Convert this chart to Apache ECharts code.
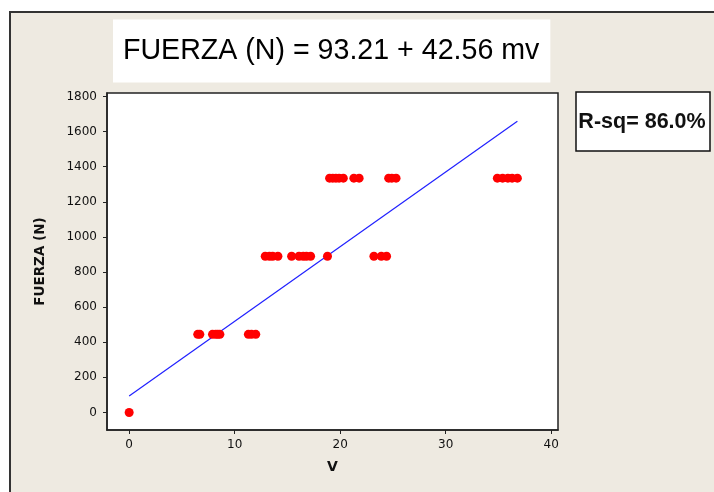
<!DOCTYPE html>
<html>
<head>
<meta charset="utf-8">
<script src="https://cdn.jsdelivr.net/npm/echarts@6/dist/echarts.min.js"></script>
<style>
html,body{margin:0;padding:0;background:#fff;}
#chart{width:714px;height:492px;}
</style>
</head>
<body>
<div id="chart"></div>
<script>
// Data
var velocity = [0,
  6.5, 6.7, 7.9, 8.2, 8.4, 8.6, 11.3, 11.6, 12.0,
  12.9, 13.3, 13.6, 14.1, 15.4, 16.1, 16.5, 16.8, 17.2, 18.8, 23.2, 23.9, 24.4,
  19.0, 19.3, 19.6, 19.9, 20.3, 21.3, 21.8, 24.6, 24.9, 25.3, 34.9, 35.4, 35.9, 36.3, 36.8];
var force = [0,
  445, 445, 445, 445, 445, 445, 445, 445, 445,
  890, 890, 890, 890, 890, 890, 890, 890, 890, 890, 890, 890, 890,
  1335, 1335, 1335, 1335, 1335, 1335, 1335, 1335, 1335, 1335, 1335, 1335, 1335, 1335, 1335];
var xTicks = [0, 10, 20, 30, 40];
var yTicks = [0, 200, 400, 600, 800, 1000, 1200, 1400, 1600, 1800];
var intercept = 93.21;
var slope = 42.56;
var rsq = '86.0%';

var points = velocity.map(function (v, i) { return [v, force[i]]; });
var xMin = Math.min.apply(null, velocity), xMax = Math.max.apply(null, velocity);
var fitLine = [[xMin, intercept + slope * xMin], [xMax, intercept + slope * xMax]];
var plain = function (v) { return String(v); };

var chart = echarts.init(document.getElementById('chart'));
chart.setOption({
  backgroundColor: '#ffffff',
  animation: false,
  graphic: [
    { type: 'rect', z: -10, silent: true,
      shape: { x: 10, y: 12, width: 720, height: 500 },
      style: { fill: '#EEEAE1', stroke: '#333333', lineWidth: 2 } },
    { type: 'rect', z: 5,
      shape: { x: 576, y: 92, width: 134, height: 59 },
      style: { fill: '#ffffff', stroke: '#111111', lineWidth: 1.5 } },
    { type: 'text', z: 6, x: 642, y: 122,
      style: { text: 'R-sq= ' + rsq, fill: '#111', font: 'bold 21.5px "Liberation Sans", Arial, sans-serif',
               textAlign: 'center', textVerticalAlign: 'middle' } }
  ],
  title: {
    text: 'FUERZA (N) = ' + intercept + ' + ' + slope + ' mv',
    left: 113, top: 20,
    backgroundColor: '#ffffff',
    padding: [17, 11, 17, 10],
    textStyle: { fontFamily: '"Liberation Sans", Arial, sans-serif', fontSize: 28.6, fontWeight: 'normal', color: '#000', lineHeight: 28 }
  },
  grid: {
    left: 107, top: 93, right: 156, bottom: 62,
    show: true, backgroundColor: '#ffffff', borderColor: '#222', borderWidth: 1.5
  },
  xAxis: {
    type: 'value', min: -2.1, max: 40.65,
    name: 'V', nameLocation: 'middle', nameGap: 30,
    nameTextStyle: { fontFamily: '"DejaVu Sans", sans-serif', fontWeight: 'bold', fontSize: 14, color: '#111' },
    splitLine: { show: false },
    axisLine: { show: true, onZero: false, lineStyle: { color: '#222', width: 1.5 } },
    axisTick: { show: true, length: 4, customValues: xTicks, lineStyle: { color: '#222' } },
    axisLabel: { customValues: xTicks, formatter: plain, margin: 9, fontFamily: '"DejaVu Sans", sans-serif', fontSize: 12, color: '#111' }
  },
  yAxis: {
    type: 'value', min: -100, max: 1820,
    name: 'FUERZA (N)', nameLocation: 'middle', nameGap: 60, nameRotate: 90,
    nameTextStyle: { fontFamily: '"DejaVu Sans", sans-serif', fontWeight: 'bold', fontSize: 13.5, color: '#111' },
    splitLine: { show: false },
    axisLine: { show: true, onZero: false, lineStyle: { color: '#222', width: 1.5 } },
    axisTick: { show: true, length: 4, customValues: yTicks, lineStyle: { color: '#222' } },
    axisLabel: { customValues: yTicks, formatter: plain, margin: 10, fontFamily: '"DejaVu Sans", sans-serif', fontSize: 12, color: '#111' }
  },
  series: [
    { type: 'line', data: fitLine, symbol: 'none', z: 2,
      lineStyle: { color: '#2020ff', width: 1.2 } },
    { type: 'scatter', data: points, symbol: 'circle', symbolSize: 9, z: 3,
      itemStyle: { color: '#ff0000', opacity: 1 } }
  ]
});
</script>
</body>
</html>
